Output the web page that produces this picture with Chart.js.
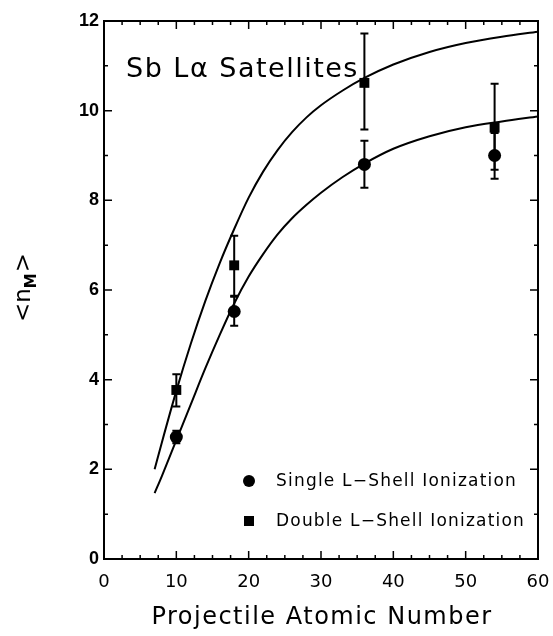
<!DOCTYPE html>
<html>
<head>
    <title>Sb L-alpha Satellites</title>
    <script src="https://cdn.jsdelivr.net/npm/chart.js"></script>
    <style>
        html, body { margin: 0; padding: 0; background: #fff; }
        #wrap { width: 553px; height: 636px; }
    </style>
</head>
<body>
    <div id="wrap"><canvas id="plot" width="553" height="636"></canvas></div>

    <script>
        // measured points (projectile Z) with error bars
        const singleZ = [10, 18, 36, 54];
        const singleN = [2.72, 5.52, 8.80, 9.00];
        const singleLo = [2.58, 5.20, 8.28, 8.48];
        const singleHi = [2.86, 5.85, 9.33, 9.50];

        const doubleZ = [10, 18, 36, 54];
        const doubleN = [3.77, 6.55, 10.62, 9.62];
        const doubleLo = [3.40, 5.87, 9.58, 8.68];
        const doubleHi = [4.12, 7.21, 11.72, 10.60];

        // fitted curves
        const upperZ = [7, 8, 10, 12, 14, 16, 18, 20, 22, 24, 26, 28, 30, 33, 36, 40, 45, 50, 55, 60];
        const upperN = [2.0, 2.6, 3.75, 4.8, 5.75, 6.6, 7.36, 8.06, 8.64, 9.12, 9.52, 9.85, 10.12, 10.45, 10.73, 11.03, 11.31, 11.51, 11.65, 11.76];
        const lowerZ = [7, 8, 10, 12, 14, 16, 18, 20, 22, 24, 26, 28, 30, 33, 36, 40, 45, 50, 55, 60];
        const lowerN = [1.47, 1.85, 2.65, 3.45, 4.25, 5.0, 5.7, 6.3, 6.8, 7.24, 7.6, 7.9, 8.17, 8.52, 8.82, 9.15, 9.43, 9.63, 9.76, 9.87];

        const xTicks = [0, 10, 20, 30, 40, 50, 60];
        const yTicks = [0, 2, 4, 6, 8, 10, 12];
        const xMinor = [2.5, 5, 7.5, 12.5, 15, 17.5, 22.5, 25, 27.5, 32.5, 35, 37.5, 42.5, 45, 47.5, 52.5, 55, 57.5];
        const yMinor = [1, 3, 5, 7, 9, 11];

        const titleText = 'Sb L\u03B1 Satellites';
        const xTitle = 'Projectile Atomic Number';
        const legendLabels = ['Single L\u2212Shell Ionization', 'Double L\u2212Shell Ionization'];

        const pts = (xs, ys) => xs.map((x, i) => ({ x: x, y: ys[i] }));

        // frame, inward ticks, error bars, labels
        const decor = {
            id: 'decor',
            beforeDatasetsDraw(chart) {
                const ctx = chart.ctx;
                const xs = chart.scales.x, ys = chart.scales.y;
                const a = chart.chartArea;
                ctx.save();
                ctx.strokeStyle = '#000';
                ctx.lineWidth = 2;
                ctx.strokeRect(a.left, a.top, a.right - a.left, a.bottom - a.top);
                ctx.lineWidth = 1.5;
                ctx.beginPath();
                const tick = (vals, len) => {
                    vals.forEach(v => {
                        const px = xs.getPixelForValue(v);
                        ctx.moveTo(px, a.bottom); ctx.lineTo(px, a.bottom - len);
                        ctx.moveTo(px, a.top); ctx.lineTo(px, a.top + len);
                    });
                };
                const tickY = (vals, len) => {
                    vals.forEach(v => {
                        const py = ys.getPixelForValue(v);
                        ctx.moveTo(a.left, py); ctx.lineTo(a.left + len, py);
                        ctx.moveTo(a.right, py); ctx.lineTo(a.right - len, py);
                    });
                };
                tick(xTicks, 8); tick(xMinor, 4);
                tickY(yTicks, 8); tickY(yMinor, 4);
                ctx.stroke();

                // error bars
                ctx.lineWidth = 2;
                const bars = (zs, lo, hi) => {
                    zs.forEach((z, i) => {
                        const px = xs.getPixelForValue(z);
                        const p1 = ys.getPixelForValue(lo[i]);
                        const p2 = ys.getPixelForValue(hi[i]);
                        ctx.beginPath();
                        ctx.moveTo(px, p1); ctx.lineTo(px, p2);
                        ctx.moveTo(px - 4, p1); ctx.lineTo(px + 4, p1);
                        ctx.moveTo(px - 4, p2); ctx.lineTo(px + 4, p2);
                        ctx.stroke();
                    });
                };
                bars(doubleZ, doubleLo, doubleHi);
                bars(singleZ, singleLo, singleHi);
                ctx.restore();
            },
            afterDraw(chart) {
                const ctx = chart.ctx;
                ctx.save();
                ctx.fillStyle = '#000';
                ctx.textBaseline = 'middle';
                ctx.textAlign = 'left';

                ctx.font = '27px "DejaVu Sans"';
                ctx.letterSpacing = '1.5px';
                ctx.fillText(titleText, 126, 70);

                // legend
                ctx.font = '17px "DejaVu Sans"';
                ctx.letterSpacing = '1.2px';
                ctx.beginPath();
                ctx.arc(249, 481, 6, 0, Math.PI * 2);
                ctx.fill();
                ctx.fillRect(244, 516, 10, 10);
                ctx.fillText(legendLabels[0], 276, 482);
                ctx.fillText(legendLabels[1], 276, 522);

                // x title, a bit wider than the stock one
                ctx.font = '24px "DejaVu Sans"';
                ctx.letterSpacing = '1.5px';
                ctx.textAlign = 'center';
                ctx.fillText(xTitle, (chart.chartArea.left + chart.chartArea.right) / 2 + 1, 618);

                // y title <n_M>
                ctx.textAlign = 'left';
                ctx.letterSpacing = '0px';
                ctx.translate(30, 322);
                ctx.rotate(-Math.PI / 2);
                ctx.textBaseline = 'alphabetic';
                ctx.font = '23px "DejaVu Sans"';
                let w = 0;
                ctx.fillText('<n', 0, 0);
                w += ctx.measureText('<n').width;
                ctx.font = 'bold 15px "DejaVu Sans"';
                ctx.fillText('M', w, 6);
                w += ctx.measureText('M').width + 1;
                ctx.font = '23px "DejaVu Sans"';
                ctx.fillText('>', w, 0);
                ctx.restore();
            }
        };

        const ctx = document.getElementById('plot').getContext('2d');
        const chart = new Chart(ctx, {
            type: 'scatter',
            data: {
                datasets: [
                    {
                        label: 'upper fit', type: 'line', data: pts(upperZ, upperN),
                        borderColor: '#000', borderWidth: 2, pointRadius: 0,
                        cubicInterpolationMode: 'monotone', fill: false
                    },
                    {
                        label: 'lower fit', type: 'line', data: pts(lowerZ, lowerN),
                        borderColor: '#000', borderWidth: 2, pointRadius: 0,
                        cubicInterpolationMode: 'monotone', fill: false
                    },
                    {
                        label: legendLabels[1], data: pts(doubleZ, doubleN),
                        pointStyle: 'rect', pointRadius: 7, backgroundColor: '#000', borderColor: '#000', borderWidth: 0
                    },
                    {
                        label: legendLabels[0], data: pts(singleZ, singleN),
                        pointStyle: 'circle', pointRadius: 6.5, backgroundColor: '#000', borderColor: '#000', borderWidth: 0
                    }
                ]
            },
            options: {
                responsive: false,
                animation: false,
                events: [],
                layout: { padding: { top: 21, right: 15, left: 0, bottom: 0 } },
                plugins: { legend: { display: false }, tooltip: { enabled: false } },
                scales: {
                    x: {
                        type: 'linear', min: 0, max: 60,
                        afterBuildTicks: s => { s.ticks = xTicks.map(v => ({ value: v })); },
                        afterFit: s => { s.height = 77; s.paddingLeft = 0; s.paddingRight = 0; },
                        grid: { display: false, drawTicks: false },
                        border: { display: false },
                        ticks: { color: '#000', padding: 13, maxRotation: 0, font: { family: 'DejaVu Sans', size: 18 } }
                    },
                    y: {
                        type: 'linear', min: 0, max: 12,
                        afterBuildTicks: s => { s.ticks = yTicks.map(v => ({ value: v })); },
                        afterFit: s => { s.width = 104; s.paddingTop = 0; s.paddingBottom = 0; },
                        grid: { display: false, drawTicks: false },
                        border: { display: false },
                        ticks: { color: '#000', padding: 5, font: { family: 'Liberation Sans', size: 18, weight: 'bold' } }
                    }
                }
            },
            plugins: [decor]
        });
    </script>
</body>
</html>
